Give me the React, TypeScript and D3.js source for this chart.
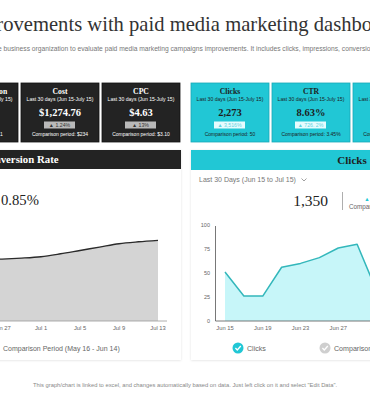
import React from 'react';
import * as d3 from 'd3';

// KPI cards
const kpiTitles = ['Total Conversion', 'Cost', 'CPC', 'Clicks', 'CTR', 'CPA'];
const kpiValues = ['1.28%', '$1,274.76', '$4.63', '2,273', '8.63%', '$0.56'];
const kpiChanges = ['▲ 24%', '▲ 1.24%', '▲ 13%', '▲ 3,516%', '▲ 726. 2%', '▲ 8%'];
const kpiComparisons = [
  'Comparison period: 1',
  'Comparison period: $234',
  'Comparison period: $3.10',
  'Comparison period: 50',
  'Comparison period: 3.45%',
  'Comparison period: 1,245',
];
const kpiPeriod = 'Last 30 days (Jun 15-July 15)';

// Conversion rate area chart
const convDates = ['Jun 15', 'Jun 17', 'Jun 19', 'Jun 21', 'Jun 23', 'Jun 25', 'Jun 27', 'Jun 29', 'Jul 1', 'Jul 3', 'Jul 5', 'Jul 7', 'Jul 9', 'Jul 11', 'Jul 13'];
const convValues = [60, 61, 62, 63, 63.5, 64, 64.5, 65.5, 67, 70, 73.5, 77, 80.5, 82.5, 84];
const convTicks = ['Jun 15', 'Jun 19', 'Jun 23', 'Jun 27', 'Jul 1', 'Jul 5', 'Jul 9', 'Jul 13'];

// Clicks area chart
const clickDates = ['Jun 15', 'Jun 17', 'Jun 19', 'Jun 21', 'Jun 23', 'Jun 25', 'Jun 27', 'Jun 29', 'Jul 1'];
const clickValues = [51, 26, 26, 56, 60, 66, 76, 80, 33];
const clickTicks = ['Jun 15', 'Jun 19', 'Jun 23', 'Jun 27', 'Jul 1'];
const yTicks = [0, 25, 50, 75, 100];

const parse = d3.timeParse('%b %d %Y');
const toDate = (s: string) => parse(`${s} 2023`) as Date;

const SERIF = '"Liberation Serif", serif';
const SANS = '"Liberation Sans", Arial, sans-serif';
const DARK = '#232323';
const TEAL = '#21c7d5';

interface Pt { date: Date; value: number }

const KpiCard: React.FC<{ i: number; x: number }> = ({ i, x }) => {
  const dark = i < 3;
  const w = 78;
  const cx = x + w / 2;
  const fg = dark ? '#ffffff' : '#1d1d1d';
  return (
    <g>
      <rect x={x} y={83} width={w} height={59} fill={dark ? DARK : TEAL}
        stroke={dark ? '#111' : '#19a9b6'} strokeWidth={0.8} />
      <text x={cx} y={94} textAnchor="middle" fontFamily={SERIF} fontWeight="bold" fontSize={7.7} fill={fg}>{kpiTitles[i]}</text>
      <text x={cx} y={100.5} textAnchor="middle" fontFamily={SANS} fontSize={5.1} fill={fg}>{kpiPeriod}</text>
      <text x={cx} y={116} textAnchor="middle" fontFamily={SERIF} fontWeight="bold" fontSize={10.5} fill={fg}>{kpiValues[i]}</text>
      <rect x={cx - 16} y={121.5} width={31} height={7} fill={dark ? '#b9b9b9' : '#e6fcfe'} />
      <text x={cx - 0.5} y={127.2} textAnchor="middle" fontFamily={SANS} fontSize={5.2} fill={dark ? '#333' : '#5fd3df'}>{kpiChanges[i]}</text>
      <text x={cx} y={135.5} textAnchor="middle" fontFamily={SANS} fontSize={5} fill={fg}>{kpiComparisons[i]}</text>
    </g>
  );
};

const Check: React.FC<{ cx: number; cy: number; fill: string }> = ({ cx, cy, fill }) => (
  <g>
    <circle cx={cx} cy={cy} r={5.5} fill={fill} />
    <path d={`M${cx - 2.6},${cy} L${cx - 0.7},${cy + 2} L${cx + 2.8},${cy - 2}`} fill="none" stroke="#fff" strokeWidth={1.3} />
  </g>
);

const App: React.FC = () => {
  const W = 370;
  const H = 393;

  const convData: Pt[] = convDates.map((d, k) => ({ date: toDate(d), value: convValues[k] }));
  const clickData: Pt[] = clickDates.map((d, k) => ({ date: toDate(d), value: clickValues[k] }));

  // scales
  const xConv = d3.scaleTime().domain([toDate('Jun 15'), toDate('Jul 13')]).range([-115, 158]);
  const xClick = d3.scaleTime().domain([toDate('Jun 15'), toDate('Jul 1')]).range([225, 376]);
  const yScale = d3.scaleLinear().domain([0, 100]).range([321, 225]);

  const convArea = d3.area<Pt>().x(d => xConv(d.date)).y0(yScale(0)).y1(d => yScale(d.value)).curve(d3.curveMonotoneX);
  const convLine = d3.line<Pt>().x(d => xConv(d.date)).y(d => yScale(d.value)).curve(d3.curveMonotoneX);
  const clickArea = d3.area<Pt>().x(d => xClick(d.date)).y0(yScale(0)).y1(d => yScale(d.value));
  const clickLine = d3.line<Pt>().x(d => xClick(d.date)).y(d => yScale(d.value));

  const cardStep = 81;
  const cardX = (i: number) => (i < 3 ? -60 + i * cardStep : 191 + (i - 3) * cardStep);

  return (
    <div style={{ position: 'absolute', left: 0, top: 0 }}>
      <svg width={W} height={H} style={{ display: 'block', background: '#fff' }}>
        <defs>
          <filter id="shadow" x="-10%" y="-10%" width="120%" height="120%">
            <feDropShadow dx="0" dy="0.5" stdDeviation="1.2" floodColor="#000" floodOpacity="0.12" />
          </filter>
        </defs>

        {/* Title */}
        <text x={-74} y={31} fontFamily={SERIF} fontSize={20.6} fill="#333">KPI improvements with paid media marketing dashboard</text>
        <text x={-2} y={51} fontFamily={SANS} fontSize={6.7} fill="#777">
          e business organization to evaluate paid media marketing campaigns improvements. It includes clicks, impressions, conversions, etc.
        </text>

        {/* KPI cards */}
        {kpiTitles.map((_, i) => <KpiCard key={i} i={i} x={cardX(i)} />)}

        {/* Left panel: Conversion Rate */}
        <rect x={-141} y={150} width={322} height={210} fill="#fff" filter="url(#shadow)" />
        <rect x={-141} y={150} width={322} height={19} fill={DARK} />
        <text x={20} y={163} textAnchor="middle" fontFamily={SERIF} fontWeight="bold" fontSize={10.8} fill="#fff">Conversion Rate</text>
        <text x={1} y={205} fontFamily={SERIF} fontSize={14.7} fill="#222">0.85%</text>

        <path d={convArea(convData) ?? ''} fill="#d4d4d4" />
        <path d={convLine(convData) ?? ''} fill="none" stroke="#2b2b2b" strokeWidth={1.4} />
        <line x1={-141} x2={167} y1={yScale(0)} y2={yScale(0)} stroke="#999" strokeWidth={0.8} />
        {convTicks.map(t => (
          <text key={t} x={xConv(toDate(t))} y={330} textAnchor="middle" fontFamily={SANS} fontSize={5.8} fill="#666">{t}</text>
        ))}
        <Check cx={-7} cy={348} fill="#cfcfcf" />
        <text x={3} y={350.5} fontFamily={SANS} fontSize={7} fill="#666">Comparison Period (May 16 - Jun 14)</text>

        {/* Right panel: Clicks */}
        <rect x={191} y={150} width={322} height={210} fill="#fff" filter="url(#shadow)" />
        <rect x={191} y={150} width={322} height={20} fill={TEAL} />
        <text x={352} y={163.5} textAnchor="middle" fontFamily={SERIF} fontWeight="bold" fontSize={11} fill="#1e1e1e">Clicks</text>
        <text x={199} y={182} fontFamily={SANS} fontSize={7} fill="#777">Last 30 Days (Jun 15 to Jul 15)</text>
        <path d="M301.5,178.5 L304,181 L306.5,178.5" fill="none" stroke="#777" strokeWidth={0.7} />
        <text x={328} y={206} textAnchor="end" fontFamily={SERIF} fontSize={15.5} fill="#222">1,350</text>
        <line x1={342.5} x2={342.5} y1={192} y2={210} stroke="#999" strokeWidth={0.8} />
        <text x={367} y={201} textAnchor="middle" fontFamily={SANS} fontSize={5.5} fill={TEAL}>▲</text>
        <text x={349} y={209} fontFamily={SANS} fontSize={6.3} fill="#666">Comparison</text>

        <path d={clickArea(clickData) ?? ''} fill="#c7f6f9" />
        <path d={clickLine(clickData) ?? ''} fill="none" stroke="#33b7bb" strokeWidth={1.5} strokeLinejoin="round" />
        <line x1={215.5} x2={215.5} y1={yScale(100) + 1} y2={yScale(0)} stroke="#555" strokeWidth={0.8} />
        <line x1={215.5} x2={W} y1={yScale(0)} y2={yScale(0)} stroke="#555" strokeWidth={0.8} />
        {yTicks.map(t => (
          <text key={t} x={210} y={yScale(t) + 2} textAnchor="end" fontFamily={SANS} fontSize={5.5} fill="#666">{t}</text>
        ))}
        {clickTicks.map(t => (
          <text key={t} x={xClick(toDate(t))} y={330} textAnchor="middle" fontFamily={SANS} fontSize={5.8} fill="#666">{t}</text>
        ))}
        <Check cx={238} cy={348} fill={TEAL} />
        <text x={247} y={350.5} fontFamily={SANS} fontSize={7.1} fill="#666">Clicks</text>
        <Check cx={325} cy={348} fill="#cfcfcf" />
        <text x={334} y={350.5} fontFamily={SANS} fontSize={7.1} fill="#666">Comparison Period</text>

        {/* Footer */}
        <text x={185} y={387} textAnchor="middle" fontFamily={SANS} fontSize={5.8} fill="#888">
          This graph/chart is linked to excel, and changes automatically based on data. Just left click on it and select "Edit Data".
        </text>
      </svg>
    </div>
  );
};

export default App;
